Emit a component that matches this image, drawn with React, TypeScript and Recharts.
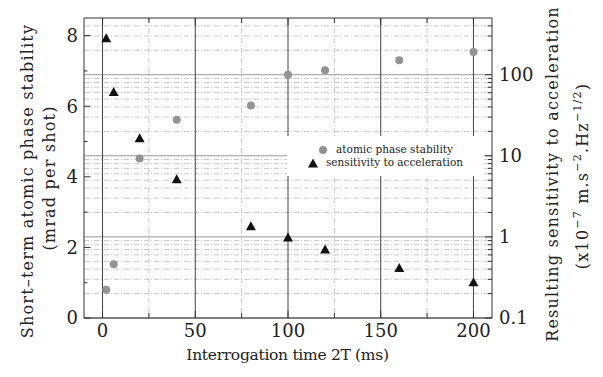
import { ScatterChart, Scatter, XAxis, YAxis, CartesianGrid, Legend } from 'recharts';

// interrogation time 2T (ms)
const times = [2, 6, 20, 40, 80, 100, 120, 160, 200];
// short-term atomic phase stability (mrad per shot), left axis
const phaseStability = [0.8, 1.52, 4.52, 5.62, 6.02, 6.89, 7.02, 7.3, 7.54];
// resulting sensitivity to acceleration (x1e-7 m.s^-2.Hz^-1/2), right log axis
const accelSensitivity = [286, 62, 16.7, 5.2, 1.37, 1.0, 0.71, 0.42, 0.28];

const xMajor = [0, 50, 100, 150, 200];
const xMinor = [25, 75, 125, 175];
const xTicks = [0, 25, 50, 75, 100, 125, 150, 175, 200];
const leftTicks = [0, 1, 2, 3, 4, 5, 6, 7, 8];
const leftLabels = [0, 2, 4, 6, 8];
const rightMajor = [0.1, 1, 10, 100];
const rightMinor = [
  0.2, 0.3, 0.4, 0.5, 0.6, 0.7, 0.8, 0.9,
  2, 3, 4, 5, 6, 7, 8, 9,
  20, 30, 40, 50, 60, 70, 80, 90,
  200, 300, 400,
];
const rightTicks = [...rightMajor, ...rightMinor].sort((a, b) => a - b);

const phaseData = times.map((x, i) => ({ x, y: phaseStability[i] }));
const accelData = times.map((x, i) => ({ x, y: accelSensitivity[i] }));

const FONT = 'DejaVu Serif';
const INK = '#222';
const FRAME = '#333';
const CIRCLE = '#939393';
const TRIANGLE = '#111';

const tickText = { fontFamily: FONT, fontSize: 18, fill: INK };

function LeftTick(props: any) {
  const { x, y, payload } = props;
  const ax = x + 6;
  const major = leftLabels.includes(payload.value);
  return (
    <g>
      <line x1={ax} x2={ax + (major ? 6.5 : 3.5)} y1={y} y2={y} stroke={FRAME} />
      {major && (
        <text x={x} y={y} dy="0.35em" textAnchor="end" {...tickText}>
          {payload.value}
        </text>
      )}
    </g>
  );
}

function RightTick(props: any) {
  const { x, y, payload } = props;
  const ax = x - 7;
  const major = rightMajor.includes(payload.value);
  return (
    <g>
      <line x1={ax} x2={ax - (major ? 7 : 4)} y1={y} y2={y} stroke={FRAME} />
      {major && (
        <text x={x} y={y} dy="0.35em" textAnchor="start" {...tickText}>
          {payload.value}
        </text>
      )}
    </g>
  );
}

function BottomTick(props: any) {
  const { x, y, payload } = props;
  const ay = y - 5;
  const major = xMajor.includes(payload.value);
  return (
    <g>
      <line x1={x} x2={x} y1={ay} y2={ay - (major ? 7 : 5)} stroke={FRAME} />
      {major && (
        <text x={x} y={y} dy="0.75em" textAnchor="middle" {...tickText}>
          {payload.value}
        </text>
      )}
    </g>
  );
}

function TopTick(props: any) {
  const { x, y, payload } = props;
  const major = xMajor.includes(payload.value);
  return <line x1={x} x2={x} y1={y} y2={y + (major ? 7 : 5)} stroke={FRAME} />;
}

function Triangle(props: any) {
  const { cx, cy } = props;
  if (cx == null || cy == null) return null;
  return (
    <polygon
      points={`${cx},${cy - 4.5} ${cx - 5},${cy + 4.5} ${cx + 5},${cy + 4.5}`}
      fill={TRIANGLE}
    />
  );
}

function Dot(props: any) {
  const { cx, cy } = props;
  if (cx == null || cy == null) return null;
  return <circle cx={cx} cy={cy} r={4} fill={CIRCLE} />;
}

const yTitle = {
  fontFamily: FONT,
  fontSize: 16,
  letterSpacing: 1.2,
  fill: INK,
  textAnchor: 'middle' as const,
};
const xTitle = {
  fontFamily: FONT,
  fontSize: 15.5,
  letterSpacing: -0.3,
  fill: INK,
  textAnchor: 'middle' as const,
};

function LeftTitle() {
  return (
    <g>
      <text x={27} y={181} dy="0.35em" transform="rotate(-90 27 181)" {...yTitle}>
        Short–term atomic phase stability
      </text>
      <text x={49} y={178} dy="0.35em" transform="rotate(-90 49 178)" {...yTitle}>
        (mrad per shot)
      </text>
    </g>
  );
}

function RightTitle() {
  return (
    <g>
      <text x={552} y={174} dy="0.35em" transform="rotate(-90 552 174)" {...yTitle}>
        Resulting sensitivity to acceleration
      </text>
      <text x={582} y={176} dy="0.35em" transform="rotate(-90 582 176)" {...yTitle}>
        (x10
        <tspan dy={-7} fontSize={11}>−7</tspan>
        <tspan dy={7}> m.s</tspan>
        <tspan dy={-7} fontSize={11}>−2</tspan>
        <tspan dy={7}>.Hz</tspan>
        <tspan dy={-7} fontSize={11}>−1/2</tspan>
        <tspan dy={7}>)</tspan>
      </text>
    </g>
  );
}

function BottomTitle() {
  return (
    <text x={287.5} y={355} dy="0.35em" {...xTitle}>
      Interrogation time 2T (ms)
    </text>
  );
}

function LegendBox(props: any) {
  const { payload = [] } = props;
  return (
    <div
      style={{
        background: '#fff',
        width: '100%',
        height: '100%',
        display: 'flex',
        flexDirection: 'column',
        alignItems: 'center',
        justifyContent: 'center',
        fontFamily: FONT,
        fontSize: 10.5,
        color: INK,
        lineHeight: '13px',
      }}
    >
      {payload.map((entry: any, i: number) => (
        <div key={i} style={{ display: 'flex', alignItems: 'center' }}>
          <svg width={10} height={10} style={{ marginRight: 8 }}>
            {i === 0 ? (
              <circle cx={5} cy={5} r={4} fill={CIRCLE} />
            ) : (
              <polygon points="5,0.5 0,9.5 10,9.5" fill={TRIANGLE} />
            )}
          </svg>
          <span>{entry.value}</span>
        </div>
      ))}
    </div>
  );
}

export default function App() {
  return (
    <div style={{ position: 'absolute', left: 0, top: 0, background: '#fff' }}>
      <ScatterChart width={603} height={377} margin={{ top: 0, right: 0, bottom: 0, left: 0 }}>
        <CartesianGrid
          xAxisId="bottom"
          yAxisId="right"
          horizontal={false}
          verticalValues={xMinor}
          stroke="#c8c8c8"
          strokeDasharray="5 2 1 2"
        />
        <CartesianGrid
          xAxisId="bottom"
          yAxisId="right"
          vertical={false}
          horizontalValues={rightMinor}
          stroke="#c8c8c8"
          strokeDasharray="5 2 1 2"
        />
        <CartesianGrid
          xAxisId="bottom"
          yAxisId="right"
          vertical={false}
          horizontalValues={rightMajor}
          stroke="#999"
        />
        <CartesianGrid
          xAxisId="bottom"
          yAxisId="right"
          horizontal={false}
          verticalValues={xMajor}
          stroke="#444"
        />
        <XAxis
          xAxisId="bottom"
          orientation="bottom"
          type="number"
          dataKey="x"
          domain={[-10, 210]}
          allowDataOverflow
          ticks={xTicks}
          interval={0}
          height={59}
          tickSize={0}
          tickMargin={5}
          tickLine={false}
          tick={<BottomTick />}
          axisLine={{ stroke: FRAME }}
          label={{ content: () => <BottomTitle /> }}
        />
        <XAxis
          xAxisId="top"
          orientation="top"
          type="number"
          dataKey="x"
          domain={[-10, 210]}
          allowDataOverflow
          ticks={xTicks}
          interval={0}
          height={18}
          tickSize={0}
          tickMargin={0}
          tickLine={false}
          tick={<TopTick />}
          axisLine={{ stroke: FRAME }}
        />
        <YAxis
          yAxisId="left"
          orientation="left"
          type="number"
          dataKey="y"
          domain={[0, 8.5]}
          allowDataOverflow
          ticks={leftTicks}
          interval={0}
          width={84}
          tickSize={0}
          tickMargin={6}
          tickLine={false}
          tick={<LeftTick />}
          axisLine={{ stroke: FRAME }}
          label={{ content: () => <LeftTitle /> }}
        />
        <YAxis
          yAxisId="right"
          orientation="right"
          type="number"
          dataKey="y"
          scale="log"
          domain={[0.1, 500]}
          allowDataOverflow
          ticks={rightTicks}
          interval={0}
          width={111}
          tickSize={0}
          tickMargin={7}
          tickLine={false}
          tick={<RightTick />}
          axisLine={{ stroke: FRAME }}
          label={{ content: () => <RightTitle /> }}
        />
        <Legend
          layout="vertical"
          align="center"
          verticalAlign="middle"
          wrapperStyle={{ left: 287, top: 136, width: 197, height: 40 }}
          content={<LegendBox />}
        />
        <Scatter
          name="atomic phase stability"
          data={phaseData}
          xAxisId="bottom"
          yAxisId="left"
          fill={CIRCLE}
          shape={<Dot />}
          isAnimationActive={false}
        />
        <Scatter
          name="sensitivity to acceleration"
          data={accelData}
          xAxisId="bottom"
          yAxisId="right"
          fill={TRIANGLE}
          shape={<Triangle />}
          isAnimationActive={false}
        />
      </ScatterChart>
    </div>
  );
}
